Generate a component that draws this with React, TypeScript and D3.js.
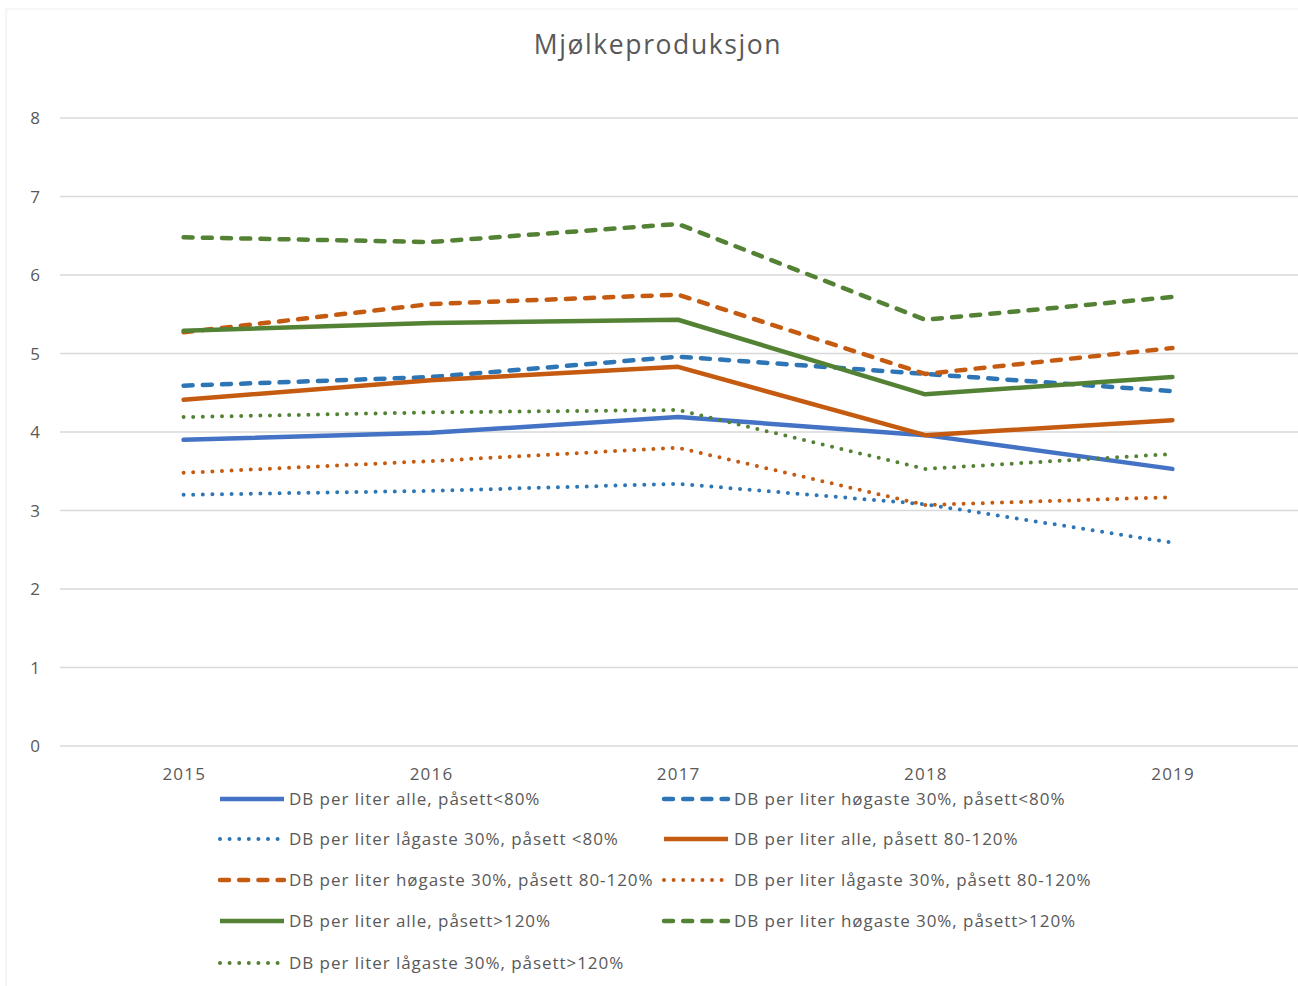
import React from "react";
import * as d3 from "d3";

const years = ["2015", "2016", "2017", "2018", "2019"];
const yTicks = [0, 1, 2, 3, 4, 5, 6, 7, 8];

const alleUnder80 = [3.9, 3.99, 4.19, 3.96, 3.53];
const hogUnder80 = [4.59, 4.7, 4.96, 4.74, 4.52];
const lagUnder80 = [3.2, 3.25, 3.34, 3.08, 2.59];
const alleMid = [4.41, 4.66, 4.83, 3.96, 4.15];
const hogMid = [5.27, 5.63, 5.75, 4.74, 5.07];
const lagMid = [3.48, 3.63, 3.8, 3.07, 3.17];
const alleOver120 = [5.29, 5.39, 5.43, 4.48, 4.7];
const hogOver120 = [6.48, 6.42, 6.65, 5.43, 5.72];
const lagOver120 = [4.19, 4.25, 4.28, 3.53, 3.72];

const seriesNames = [
  "DB per liter alle, påsett<80%",
  "DB per liter høgaste 30%, påsett<80%",
  "DB per liter lågaste 30%, påsett <80%",
  "DB per liter alle, påsett 80-120%",
  "DB per liter høgaste 30%, påsett 80-120%",
  "DB per liter lågaste 30%, påsett 80-120%",
  "DB per liter alle, påsett>120%",
  "DB per liter høgaste 30%, påsett>120%",
  "DB per liter lågaste 30%, påsett>120%",
];

const seriesValues = [
  alleUnder80, hogUnder80, lagUnder80,
  alleMid, hogMid, lagMid,
  alleOver120, hogOver120, lagOver120,
];

const seriesColors = [
  "#4472C4", "#2E75B6", "#2E75B6",
  "#C55A11", "#C55A11", "#C55A11",
  "#548235", "#548235", "#548235",
];

const seriesStyles = ["solid", "dash", "dot", "solid", "dash", "dot", "solid", "dash", "dot"];

const FONT = "'Open Sans', Lato, sans-serif";
const TEXT = "#595959";

function styleProps(s: string) {
  if (s === "dash") return { strokeWidth: 4.5, strokeDasharray: "9 10.2", strokeLinecap: "round" as const };
  if (s === "dot") return { strokeWidth: 4, strokeDasharray: "0 9.6", strokeLinecap: "round" as const };
  return { strokeWidth: 4.5, strokeDasharray: undefined, strokeLinecap: "round" as const };
}

export default function App() {
  const W = 1298, H = 986;
  const left = 60, right = 1296, top = 118, bottom = 746;
  const x = d3.scaleBand<string>().domain(years).range([left, right]);
  const y = d3.scaleLinear().domain([0, 8]).range([bottom, top]);
  const line = d3
    .line<number>()
    .x((_, i) => (x(years[i]) as number) + x.bandwidth() / 2)
    .y((v) => y(v));

  const legendRows = [799, 839, 880, 921, 963];
  const legendCols = [
    { x0: 220, x1: 284, tx: 289 },
    { x0: 664, x1: 728, tx: 734 },
  ];

  return (
    <svg
      width={W}
      height={H}
      style={{ position: "absolute", left: 0, top: 0, background: "#fff" }}
      fontFamily={FONT}
    >
      <rect x={6} y={9} width={W} height={H} fill="#fff" stroke="#eeeeee" strokeWidth={1} />
      <text x={658} y={54} textAnchor="middle" fontSize={26.5} letterSpacing={1.6} fill={TEXT}>
        Mjølkeproduksjon
      </text>
      {yTicks.map((t) => (
        <g key={t}>
          <line x1={left} x2={right + 2} y1={y(t)} y2={y(t)} stroke="#d9d9d9" strokeWidth={1.3} />
          <text x={35} y={y(t) + 6} textAnchor="middle" fontSize={17} fill={TEXT}>
            {t}
          </text>
        </g>
      ))}
      {years.map((yr) => (
        <text
          key={yr}
          x={(x(yr) as number) + x.bandwidth() / 2 + 0.7}
          y={780}
          textAnchor="middle"
          fontSize={17}
          letterSpacing={1.2}
          fill={TEXT}
        >
          {yr}
        </text>
      ))}
      {seriesValues.map((vals, i) => {
        const sp = styleProps(seriesStyles[i]);
        return (
          <path
            key={i}
            d={line(vals) || ""}
            fill="none"
            stroke={seriesColors[i]}
            strokeWidth={sp.strokeWidth}
            strokeDasharray={sp.strokeDasharray}
            strokeLinecap={sp.strokeLinecap}
            strokeLinejoin="round"
          />
        );
      })}
      {seriesNames.map((name, i) => {
        const row = Math.floor(i / 2);
        const col = legendCols[i % 2];
        const ly = legendRows[row];
        const sp = styleProps(seriesStyles[i]);
        return (
          <g key={name}>
            <line
              x1={col.x0}
              x2={col.x1}
              y1={ly}
              y2={ly}
              stroke={seriesColors[i]}
              strokeWidth={sp.strokeWidth}
              strokeDasharray={sp.strokeDasharray}
              strokeLinecap={seriesStyles[i] === "solid" ? "butt" : "round"}
            />
            <text x={col.tx} y={ly + 6} fontSize={17} letterSpacing={0.95} fill={TEXT}>
              {name}
            </text>
          </g>
        );
      })}
    </svg>
  );
}
